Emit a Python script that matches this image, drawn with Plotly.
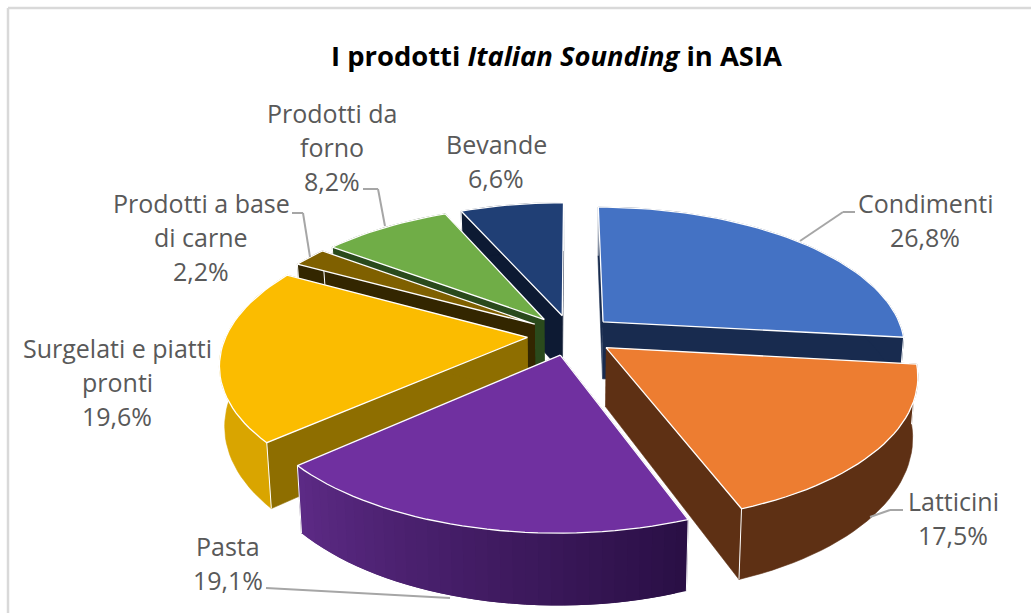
import numpy as np
import plotly.graph_objects as go

# Share of Italian Sounding products in Asia, percent
categories = ["Condimenti", "Latticini", "Pasta", "Surgelati e piatti pronti",
              "Prodotti a base di carne", "Prodotti da forno", "Bevande"]
values = [26.8, 17.5, 19.1, 19.6, 2.2, 8.2, 6.6]

# Label wording broken onto lines, with the centre and first row of each block
label_lines = [["Condimenti"], ["Latticini"], ["Pasta"], ["Surgelati e piatti", "pronti"],
               ["Prodotti a base", "di carne"], ["Prodotti da", "forno"], ["Bevande"]]
label_anchor = [(925, 203), (953, 501), (228, 546), (117, 348), (201, 203), (332, 113), (496, 144)]
LINE_STEP = 34

top_colors = ["#4472C4", "#ED7D31", "#7030A0", "#FBBC00", "#7F6000", "#70AD47", "#203F75"]
cut_colors = ["#182B4F", "#5E3014", "#2C1042", "#8E6E00", "#332600", "#2A4A1C", "#0D1A33"]
wall_start = ["#182B4F", "#5E3014", "#2A0F45", "#D9A500", "#332600", "#2A4A1C", "#0D1A33"]
wall_end = ["#182B4F", "#5E3014", "#5C2A85", "#D9A500", "#332600", "#2A4A1C", "#0D1A33"]

leaders = [
    [(855, 212), (843, 212), (800, 241)],
    [(903, 510), (890, 510), (870, 517)],
    [(266, 588), (450, 598)],
    [],
    [(292, 213), (303, 213), (310, 257)],
    [(363, 189), (378, 189), (385, 226)],
    [],
]

# Projection of the pie plane on screen
CX, CY = 571.0, 335.0
SCALE_X, SCALE_Y = 301.0, 139.0
PERSPECTIVE = 0.175
EXPLODE = 0.145
THICKNESS = 58.0
TAPER = 0.985


def project(x, y, drop=0.0):
    den = 1 + PERSPECTIVE * y
    sx = CX + SCALE_X * x / den
    sy = CY - SCALE_Y * y / den
    if drop:
        sx = CX + (sx - CX) * TAPER
        sy = sy + THICKNESS / den
    return sx, sy


def mix(c1, c2, t):
    a = [int(c1[i:i + 2], 16) for i in (1, 3, 5)]
    b = [int(c2[i:i + 2], 16) for i in (1, 3, 5)]
    return "rgb(%d,%d,%d)" % tuple(round(p + (q - p) * t) for p, q in zip(a, b))


fig = go.Figure()


def polygon(xs, ys, fill, line=None, width=0.0):
    fig.add_trace(go.Scatter(x=list(xs), y=list(ys), mode="lines", fill="toself", fillcolor=fill,
                             line=dict(color=line or fill, width=width),
                             hoverinfo="skip", showlegend=False))


def stroke(xs, ys, color="#FFFFFF", width=1.3):
    fig.add_trace(go.Scatter(x=list(xs), y=list(ys), mode="lines", line=dict(color=color, width=width),
                             hoverinfo="skip", showlegend=False))


edges = np.radians(np.cumsum([0] + values) * 3.6)
mid_cos = [np.cos((edges[i] + edges[i + 1]) / 2) for i in range(len(values))]

# Slices further back are painted first so nearer ones overlap them
for i in np.argsort(mid_cos)[::-1]:
    a0, a1 = edges[i], edges[i + 1]
    mid = (a0 + a1) / 2
    ox, oy = EXPLODE * np.sin(mid), EXPLODE * np.cos(mid)
    theta = np.linspace(a0, a1, max(8, int((a1 - a0) * 30)))
    rx, ry = ox + np.sin(theta), oy + np.cos(theta)

    # two flat cut faces running from the slice tip to its rim
    for k in (0, -1):
        tx, ty = project(ox, oy)
        ex, ey = project(rx[k], ry[k])
        bx, by = project(ox, oy, 1)
        fx, fy = project(rx[k], ry[k], 1)
        polygon([tx, ex, fx, bx], [ty, ey, fy, by], cut_colors[i], width=0.6)

    # curved outer wall; shaded walls are laid as overlapping bands
    ux, uy = project(rx, ry)
    lx, ly = project(rx, ry, 1)
    if wall_start[i] == wall_end[i]:
        polygon(np.r_[ux, lx[::-1]], np.r_[uy, ly[::-1]], wall_start[i], width=0.6)
    else:
        for j in range(len(theta) - 1):
            end = min(j + 3, len(theta))
            color = mix(wall_start[i], wall_end[i], j / max(1, len(theta) - 2))
            polygon(np.r_[ux[j:end], lx[j:end][::-1]], np.r_[uy[j:end], ly[j:end][::-1]], color)

    # pale seams down the wall ends
    for k in (0, -1):
        stroke([ux[k], lx[k]], [uy[k], ly[k]], width=1.0)

    # top surface
    sx, sy = project(np.r_[ox, rx, ox], np.r_[oy, ry, oy])
    polygon(sx, sy, top_colors[i], line="#FFFFFF", width=1.3)

annotations = [dict(x=556, y=55, xref="x", yref="y", showarrow=False,
                    text="<b>I prodotti <i>Italian Sounding</i> in ASIA</b>",
                    font=dict(family="Open Sans", size=27.4, color="#000000"))]

for lines, (ax, ay), v in zip(label_lines, label_anchor, values):
    rows = lines + [f"{v:.1f}".replace(".", ",") + "%"]
    for r, row in enumerate(rows):
        annotations.append(dict(x=ax, y=ay + r * LINE_STEP, xref="x", yref="y", showarrow=False,
                                text=row, font=dict(family="Open Sans", size=25, color="#595959")))

shapes = []
for path in leaders:
    for (x0, y0), (x1, y1) in zip(path, path[1:]):
        shapes.append(dict(type="line", x0=x0, y0=y0, x1=x1, y1=y1, xref="x", yref="y",
                           line=dict(color="#A6A6A6", width=2)))

# Chart frame along the top and left
for x0, y0, x1, y1 in [(8, 8, 1031, 8), (8, 8, 8, 613)]:
    shapes.append(dict(type="line", x0=x0, y0=y0, x1=x1, y1=y1, xref="x", yref="y",
                       line=dict(color="#D9D9D9", width=2.5)))

fig.update_layout(width=1031, height=613, margin=dict(l=0, r=0, t=0, b=0),
                  paper_bgcolor="#FFFFFF", plot_bgcolor="#FFFFFF",
                  xaxis=dict(range=[0, 1031], visible=False, fixedrange=True),
                  yaxis=dict(range=[613, 0], visible=False, fixedrange=True),
                  annotations=annotations, shapes=shapes, showlegend=False)

fig.write_html("out.html", config=dict(displayModeBar=False))
